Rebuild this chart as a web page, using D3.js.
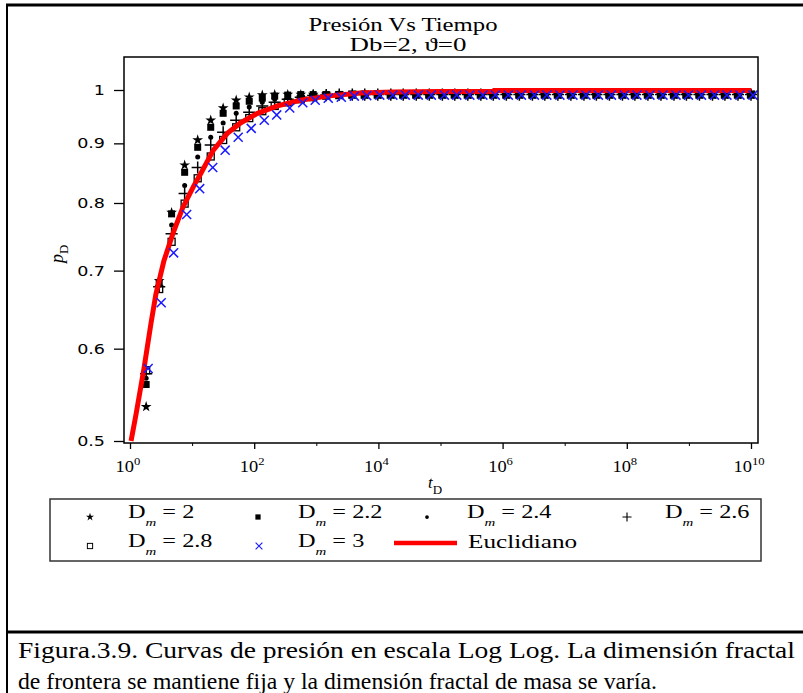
<!DOCTYPE html>
<html>
<head>
<meta charset="utf-8">
<script src="https://cdn.jsdelivr.net/npm/d3@7"></script>
<style>
body { margin: 0; background: #fff; }
svg { display: block; }
.serif { font-family: "Liberation Serif", "Times New Roman", serif; }
.ytick text { font-family: "DejaVu Sans", sans-serif; font-size: 14px; }
</style>
</head>
<body>
<div id="chart"></div>
<script>
// log10 of t_D at every marker column
var logT = [0.26, 0.47, 0.67, 0.88, 1.09, 1.30, 1.50, 1.71, 1.92, 2.13, 2.33, 2.54, 2.75, 2.95, 3.16, 3.37,
  3.58, 3.78, 3.99, 4.20, 4.40, 4.61, 4.82, 5.03, 5.23, 5.44, 5.65, 5.85, 6.06, 6.27, 6.48, 6.68,
  6.89, 7.10, 7.31, 7.51, 7.72, 7.93, 8.13, 8.34, 8.55, 8.76, 8.96, 9.17, 9.38, 9.58, 9.79, 10.0];

var dm20 = [0.535, 0.686, 0.785, 0.862, 0.906, 0.942, 0.965, 0.980, 0.986, 0.990, 0.991, 0.991, 0.991, 0.991, 0.991, 0.991,
  0.991, 0.991, 0.991, 0.991, 0.991, 0.991, 0.991, 0.991, 0.991, 0.991, 0.991, 0.991, 0.991, 0.991, 0.991, 0.991,
  0.991, 0.991, 0.991, 0.991, 0.991, 0.991, 0.991, 0.991, 0.991, 0.991, 0.991, 0.991, 0.991, 0.991, 0.991, 0.991];
var dm22 = [0.559, 0.683, 0.783, 0.850, 0.893, 0.929, 0.955, 0.969, 0.978, 0.984, 0.988, 0.990, 0.991, 0.991, 0.991, 0.991,
  0.991, 0.991, 0.991, 0.991, 0.991, 0.991, 0.991, 0.991, 0.991, 0.991, 0.991, 0.991, 0.991, 0.991, 0.991, 0.991,
  0.991, 0.991, 0.991, 0.991, 0.991, 0.991, 0.991, 0.991, 0.991, 0.991, 0.991, 0.991, 0.991, 0.991, 0.991, 0.991];
var dm24 = [0.566, 0.680, 0.766, 0.828, 0.876, 0.911, 0.937, 0.955, 0.967, 0.976, 0.982, 0.986, 0.989, 0.990, 0.991, 0.991,
  0.991, 0.991, 0.991, 0.991, 0.991, 0.991, 0.991, 0.991, 0.991, 0.991, 0.991, 0.991, 0.991, 0.991, 0.991, 0.991,
  0.991, 0.991, 0.991, 0.991, 0.991, 0.991, 0.991, 0.991, 0.991, 0.991, 0.991, 0.991, 0.991, 0.991, 0.991, 0.991];
var dm26 = [0.571, 0.678, 0.753, 0.815, 0.858, 0.897, 0.920, 0.942, 0.957, 0.969, 0.976, 0.982, 0.986, 0.989, 0.990, 0.991,
  0.991, 0.991, 0.991, 0.991, 0.991, 0.991, 0.991, 0.991, 0.991, 0.991, 0.991, 0.991, 0.991, 0.991, 0.991, 0.991,
  0.991, 0.991, 0.991, 0.991, 0.991, 0.991, 0.991, 0.991, 0.991, 0.991, 0.991, 0.991, 0.991, 0.991, 0.991, 0.991];
var dm28 = [0.575, 0.675, 0.741, 0.799, 0.840, 0.877, 0.906, 0.929, 0.946, 0.959, 0.969, 0.976, 0.982, 0.986, 0.989, 0.990,
  0.991, 0.991, 0.991, 0.991, 0.991, 0.991, 0.991, 0.991, 0.991, 0.991, 0.991, 0.991, 0.991, 0.991, 0.991, 0.991,
  0.991, 0.991, 0.991, 0.991, 0.991, 0.991, 0.991, 0.991, 0.991, 0.991, 0.991, 0.991, 0.991, 0.991, 0.991, 0.991];
var dm30 = [0.577, 0.657, 0.725, 0.782, 0.823, 0.858, 0.888, 0.911, 0.927, 0.942, 0.952, 0.965, 0.975, 0.980, 0.984, 0.986,
  0.988, 0.989, 0.990, 0.990, 0.990, 0.990, 0.990, 0.990, 0.990, 0.990, 0.990, 0.990, 0.990, 0.990, 0.990, 0.990,
  0.990, 0.990, 0.990, 0.990, 0.990, 0.990, 0.990, 0.990, 0.990, 0.990, 0.990, 0.990, 0.990, 0.990, 0.990, 0.990];

// euclidean curve
var euclT = [1.04, 1.25, 1.68, 2.17, 2.61, 3.5, 4.9, 7.1, 10.7, 13.8, 22, 37, 60, 113, 238, 555, 1500, 5100, 17000, 1e5, 7.6e5, 7.6e5, 1e10];
var euclP = [0.5, 0.527, 0.577, 0.63, 0.668, 0.713, 0.753, 0.793, 0.828, 0.848, 0.888, 0.918, 0.937, 0.955, 0.969, 0.980, 0.988, 0.994, 0.996, 0.997, 0.997, 0.999, 0.999];

var yTicks = [0.5, 0.6, 0.7, 0.8, 0.9, 1];
var xMajorExp = [0, 2, 4, 6, 8, 10];
var xMinorExp = [1, 3, 5, 7, 9];
var dmLabels = ["2", "2.2", "2.4", "2.6", "2.8", "3"];

var width = 803, height = 693;
var frame = {left: 124, right: 758, top: 57, bottom: 443};

// the original bitmap is stretched sideways, so widen text to match
function stretch(sel, k) {
  sel.each(function() {
    var n = this.getComputedTextLength();
    d3.select(this).attr("textLength", n * k).attr("lengthAdjust", "spacingAndGlyphs");
  });
}

var svg = d3.select("#chart").append("svg")
  .attr("width", width)
  .attr("height", height);

svg.append("rect").attr("width", width).attr("height", height).attr("fill", "#fff");

// outer figure lines
svg.append("line").attr("x1", 6).attr("x2", width).attr("y1", 5).attr("y2", 5)
  .attr("stroke", "#000").attr("stroke-width", 3);
svg.append("line").attr("x1", 7).attr("x2", 7).attr("y1", 4).attr("y2", height)
  .attr("stroke", "#000").attr("stroke-width", 2);
svg.append("line").attr("x1", 6).attr("x2", width).attr("y1", 632).attr("y2", 632)
  .attr("stroke", "#000").attr("stroke-width", 3);

var x = d3.scaleLog().domain([1, 1e10]).range([130, 751]);
var y = d3.scaleLog().domain([0.5, 1]).range([441, 90]);

// title
svg.append("text").attr("class", "serif")
  .attr("text-anchor", "middle").attr("font-size", 19)
  .attr("x", 403).attr("y", 31)
  .attr("textLength", 189).attr("lengthAdjust", "spacingAndGlyphs")
  .text("Presión Vs Tiempo");
svg.append("text").attr("class", "serif")
  .attr("text-anchor", "middle").attr("font-size", 19)
  .attr("x", 408).attr("y", 51)
  .attr("textLength", 117).attr("lengthAdjust", "spacingAndGlyphs")
  .text("Db=2,   \u03D1=0");

// axes
var yAxis = svg.append("g")
  .attr("class", "ytick")
  .attr("transform", "translate(" + frame.left + ",0)")
  .call(d3.axisLeft(y).tickValues(yTicks).tickSize(10).tickPadding(9).tickFormat(d3.format("")));
yAxis.select(".domain").remove();
yAxis.selectAll("line").attr("stroke-width", 1.3);
yAxis.selectAll("text").attr("fill", "#000");
stretch(yAxis.selectAll("text"), 1.25);

var xMajor = svg.append("g")
  .attr("transform", "translate(0," + frame.bottom + ")")
  .call(d3.axisBottom(x).tickValues(xMajorExp.map(function(e) { return Math.pow(10, e); })).tickSize(6).tickFormat(""));
xMajor.select(".domain").remove();
xMajor.selectAll("line").attr("stroke-width", 1.3);

var xMinor = svg.append("g")
  .attr("transform", "translate(0," + frame.bottom + ")")
  .call(d3.axisBottom(x).tickValues(xMinorExp.map(function(e) { return Math.pow(10, e); })).tickSize(3).tickFormat(""));
xMinor.select(".domain").remove();

var xLab = svg.append("g").selectAll("text")
  .data(xMajorExp)
  .enter()
  .append("text")
  .attr("class", "serif")
  .attr("font-size", 16)
  .attr("text-anchor", "middle")
  .attr("x", function(d) { return x(Math.pow(10, d)) - 2; })
  .attr("y", 472);
xLab.append("tspan").text("10");
xLab.append("tspan").attr("font-size", 11).attr("dy", -7).text(function(d) { return d; });
stretch(xLab, 1.15);

// axis titles
var xt = svg.append("text").attr("class", "serif").attr("font-size", 17)
  .attr("x", 428).attr("y", 488);
xt.append("tspan").attr("font-style", "italic").text("t");
xt.append("tspan").attr("font-size", 13).attr("dy", 6).text("D");

var yt = svg.append("text").attr("class", "serif").attr("font-size", 18)
  .attr("transform", "translate(63,263)rotate(-90)");
yt.append("tspan").attr("font-style", "italic").text("p");
yt.append("tspan").attr("font-size", 13).attr("dy", 5).text("D");

// plot area
svg.append("clipPath").attr("id", "clip")
  .append("rect")
  .attr("x", frame.left).attr("y", frame.top)
  .attr("width", frame.right - frame.left).attr("height", frame.bottom - frame.top);

var plot = svg.append("g").attr("clip-path", "url(#clip)");

function markerShape(sel, kind) {
  if (kind === 0) {
    sel.append("path").attr("d", d3.symbol(d3.symbolStar, 36)()).attr("fill", "#000");
  } else if (kind === 1) {
    sel.append("rect").attr("x", -3.5).attr("y", -3.5).attr("width", 7).attr("height", 7).attr("fill", "#000");
  } else if (kind === 2) {
    sel.append("circle").attr("r", 2.5).attr("fill", "#000");
  } else if (kind === 3) {
    sel.append("path").attr("d", d3.symbol(d3.symbolPlus, 50)())
      .attr("fill", "none").attr("stroke", "#000").attr("stroke-width", 1.5);
  } else if (kind === 4) {
    sel.append("rect").attr("x", -3.5).attr("y", -3.5).attr("width", 7).attr("height", 7)
      .attr("fill", "#fff").attr("stroke", "#000").attr("stroke-width", 1.3);
  } else {
    sel.append("path").attr("d", d3.symbol(d3.symbolTimes, 55)())
      .attr("fill", "none").attr("stroke", "#1a1aff").attr("stroke-width", 1.5);
  }
}

var blackSeries = [dm20, dm22, dm24, dm26, dm28];

// the open squares go first so the filled marks sit above them
[4, 3, 2, 1, 0].forEach(function(s) {
  plot.append("g").selectAll("g")
    .data(blackSeries[s])
    .enter()
    .append("g")
    .attr("transform", function(d, i) { return "translate(" + x(Math.pow(10, logT[i])) + "," + y(d) + ")"; })
    .each(function() { markerShape(d3.select(this), s); });
});

var line = d3.line()
  .x(function(d, i) { return x(euclT[i]); })
  .y(function(d) { return y(d); });

plot.append("path")
  .datum(euclP)
  .attr("d", line)
  .attr("fill", "none")
  .attr("stroke", "#ff0000")
  .attr("stroke-width", 5);

plot.append("g").selectAll("g")
  .data(dm30)
  .enter()
  .append("g")
  .attr("transform", function(d, i) { return "translate(" + (x(Math.pow(10, logT[i])) + 2) + "," + y(d) + ")"; })
  .each(function() { markerShape(d3.select(this), 5); });

svg.append("rect")
  .attr("x", frame.left).attr("y", frame.top)
  .attr("width", frame.right - frame.left).attr("height", frame.bottom - frame.top)
  .attr("fill", "none").attr("stroke", "#000").attr("stroke-width", 1.5);

// legend
svg.append("rect")
  .attr("x", 50).attr("y", 499).attr("width", 711).attr("height", 62)
  .attr("fill", "none").attr("stroke", "#333").attr("stroke-width", 1.5);

var legendPos = [[90, 128, 518], [258, 298, 518], [427, 467, 518], [627, 665, 518], [90, 128, 547], [259, 298, 547]];

legendPos.forEach(function(p, s) {
  var m = svg.append("g").attr("transform", "translate(" + p[0] + "," + (p[2] - 1) + ") scale(0.75)");
  markerShape(m, s);
  var t = svg.append("text").attr("class", "serif").attr("font-size", 18)
    .attr("x", p[1]).attr("y", p[2]);
  t.append("tspan").text("D");
  t.append("tspan").attr("font-size", 11).attr("font-style", "italic").attr("dy", 8).text("m");
  t.append("tspan").attr("dy", -8).text(" = " + dmLabels[s]);
  stretch(t, 1.35);
});

svg.append("line").attr("x1", 394).attr("x2", 457).attr("y1", 543).attr("y2", 543)
  .attr("stroke", "#ff0000").attr("stroke-width", 4.5);
var eu = svg.append("text").attr("class", "serif").attr("font-size", 18)
  .attr("x", 468).attr("y", 548).text("Euclidiano");
stretch(eu, 1.4);

// caption
svg.append("text").attr("class", "serif").attr("font-size", 23)
  .attr("x", 18).attr("y", 658)
  .attr("textLength", 777).attr("lengthAdjust", "spacingAndGlyphs")
  .text("Figura.3.9.  Curvas de presión en escala Log Log. La dimensión fractal");
svg.append("text").attr("class", "serif").attr("font-size", 23)
  .attr("x", 18).attr("y", 689)
  .attr("textLength", 639).attr("lengthAdjust", "spacingAndGlyphs")
  .text("de frontera se mantiene fija y la dimensión fractal de masa se varía.");
</script>
</body>
</html>
